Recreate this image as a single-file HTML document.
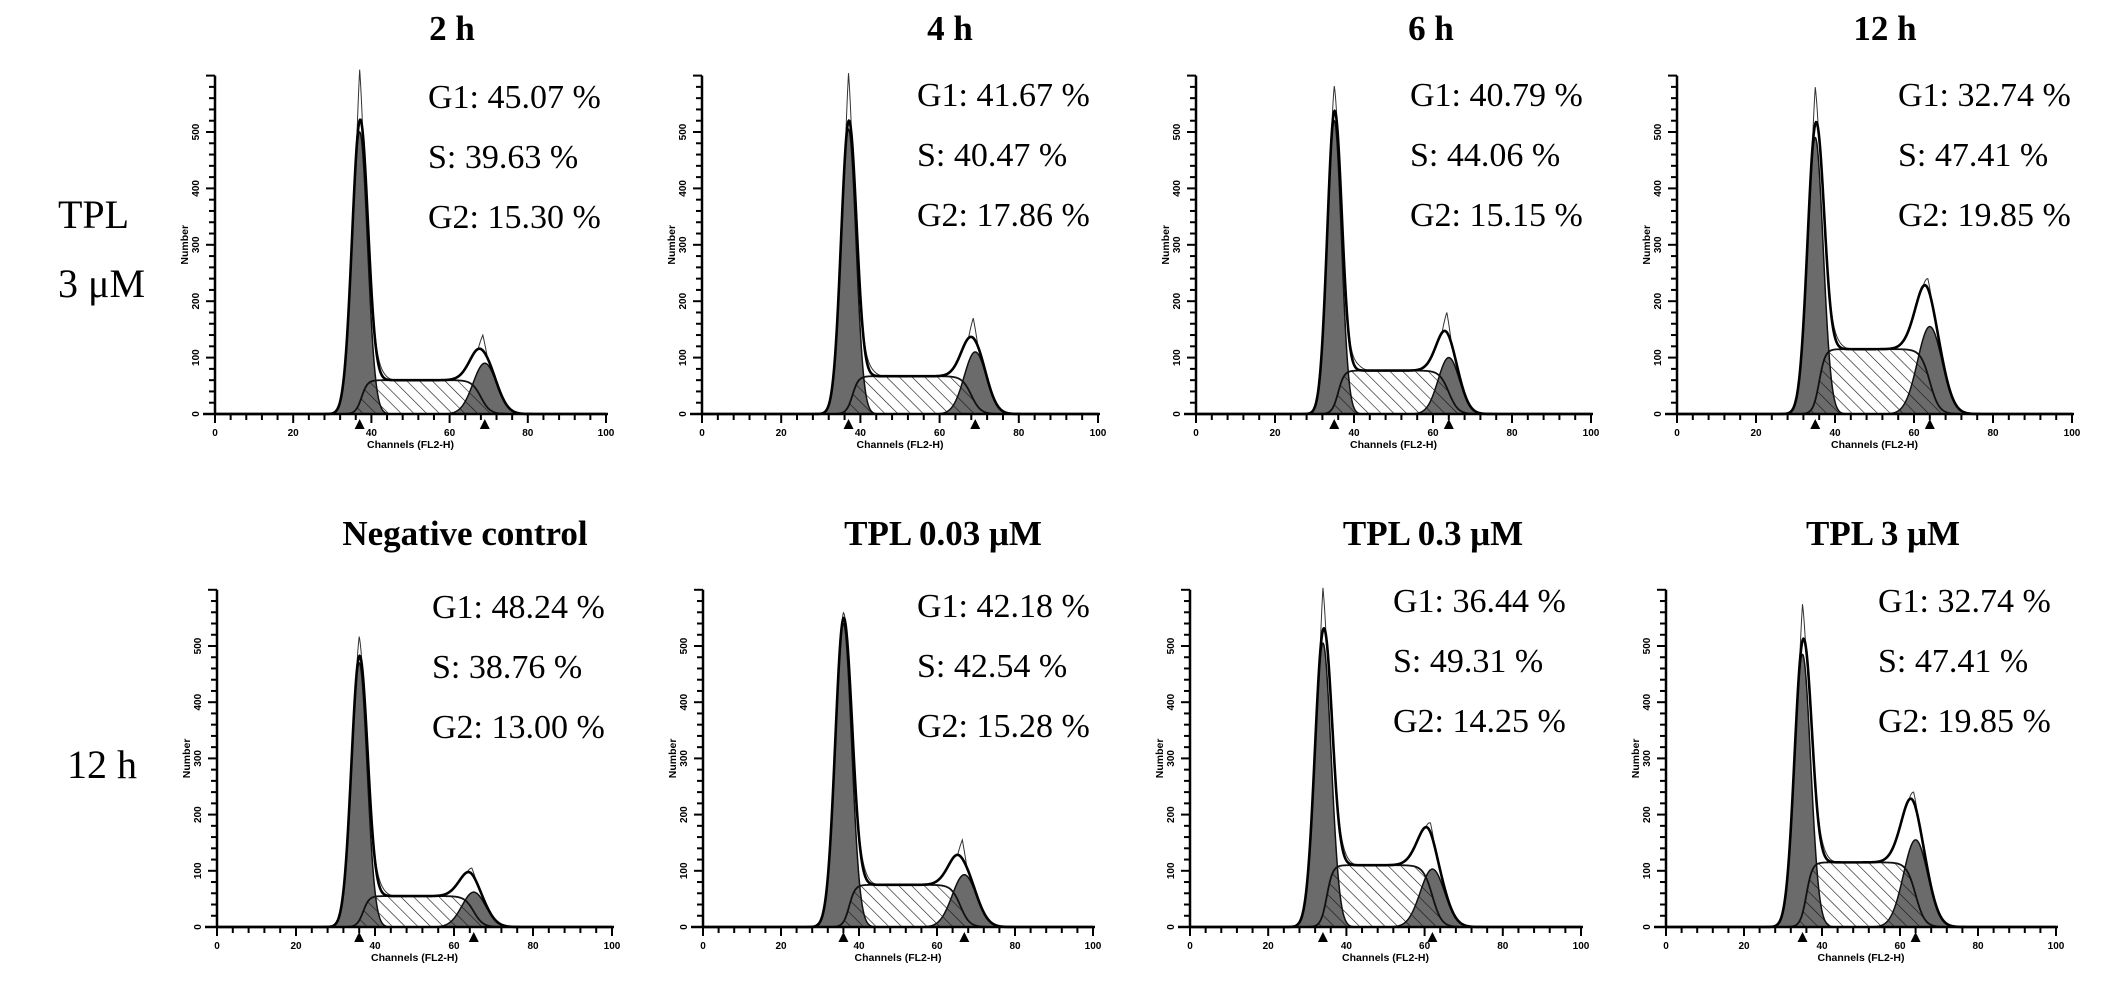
<!DOCTYPE html>
<html><head><meta charset="utf-8">
<style>
html,body{margin:0;padding:0;background:#fff;}
svg{display:block;}
.ser{font-family:"Liberation Serif",serif;fill:#000;}
.san{font-family:"Liberation Sans",sans-serif;fill:#000;font-weight:bold;}
</style></head>
<body>
<svg id="fig" width="2126" height="981" viewBox="0 0 2126 981" xmlns="http://www.w3.org/2000/svg">
<defs>
<pattern id="hatch" patternUnits="userSpaceOnUse" width="9" height="9" patternTransform="rotate(-45)">
<line x1="0" y1="0" x2="0" y2="9" stroke="#111" stroke-width="1.2"/>
</pattern>
</defs>
<text class="ser" x="58" y="228" font-size="40">TPL</text>
<text class="ser" x="58" y="297" font-size="40">3 μM</text>
<text class="ser" x="67" y="778" font-size="40">12 h</text>
</svg>
<script>
// Panel data (one entry per panel)
const titles = ["2 h","4 h","6 h","12 h","Negative control","TPL 0.03 μM","TPL 0.3 μM","TPL 3 μM"];
const g1Pct = ["45.07","41.67","40.79","32.74","48.24","42.18","36.44","32.74"];
const sPct  = ["39.63","40.47","44.06","47.41","38.76","42.54","49.31","47.41"];
const g2Pct = ["15.30","17.86","15.15","19.85","13.00","15.28","14.25","19.85"];
const g1Mean = [37,37,35,35,36,36,34,35];
const g1Height = [500,505,520,490,470,540,505,485];
const g1Sd = [2.0,1.9,1.8,2.0,2.0,2.1,2.1,2.1];
const g1Raw = [590,590,565,555,505,550,580,550];
const sLevel = [60,67,77,115,55,75,110,115];
const sStart = [37.5,38,36,36,37,37.5,35,36];
const sEnd = [68,68,64,64,65,66,62,64];
const g2Mean = [69,69,64,64,65,67,62,64];
const g2Height = [90,110,100,155,62,93,103,155];
const g2Sd = [3.0,2.8,2.7,3.1,3.0,3.1,3.1,3.1];
const g2Raw = [140,170,180,240,105,155,185,240];
const yTicks = [0,100,200,300,400,500];
const xTicks = [0,20,40,60,80,100];

// layout
const px0 = [215,702,1196,1677,217,703,1190,1666];
const px1 = [606,1098,1591,2072,612,1093,1581,2056];
const py0 = [414,414,414,414,927,927,927,927];
const pyScale = [282,282,282,282,281,281,281,281];
const titleX = [452,950,1431,1885,465,943,1433,1883];
const titleY = [40,40,40,40,545,545,545,545];
const statDX = [213,215,214,221,215,214,203,212];
const statY = [108,106,106,106,618,617,612,612];

const NS="http://www.w3.org/2000/svg";
const svg=document.getElementById('fig');
function el(tag,attrs,parent){const e=document.createElementNS(NS,tag);for(const k in attrs)e.setAttribute(k,attrs[k]);(parent||svg).appendChild(e);return e;}
function gauss(x,m,s){return Math.exp(-0.5*((x-m)/s)**2);}
function cdf(z){return 1/(1+Math.exp(-1.7*z));}

for(let i=0;i<8;i++){
  const x0=px0[i],x1=px1[i],y0=py0[i],ys=pyScale[i]/500;
  const X=v=>x0+(x1-x0)*v/100;
  const Y=v=>y0-v*ys;
  const g=el('g',{});
  
  
  const G1=x=>g1Height[i]*gauss(x,g1Mean[i],g1Sd[i]);
  const G2=x=>g2Height[i]*gauss(x,g2Mean[i],g2Sd[i]);
  const S=x=>sLevel[i]*cdf((x-sStart[i])/1.3)*(1-cdf((x-sEnd[i])/2.0));
  const step=0.1;
  function areaPath(f){let d='M'+X(0)+','+Y(0);for(let x=0;x<=100;x+=step)d+=' L'+X(x).toFixed(2)+','+Y(f(x)).toFixed(2);d+=' L'+X(100)+','+Y(0)+'Z';return d;}
  function linePath(f,a,b){let d='';for(let x=a;x<=b;x+=step)d+=(d?' L':'M')+X(x).toFixed(2)+','+Y(f(x)).toFixed(2);return d;}
  let p;
  p=el('path',{d:areaPath(G1),fill:'#6b6b6b',stroke:'#111','stroke-width':1.5},g);
  
  
  p=el('path',{d:areaPath(G2),fill:'#6b6b6b',stroke:'#111','stroke-width':1.5},g);
  
  
  p=el('path',{d:areaPath(S),fill:'url(#hatch)',stroke:'#111','stroke-width':1.8},g);
  
  
  const T=x=>G1(x)+G2(x)+S(x);
  const R=x=>T(x)+(g1Raw[i]-g1Height[i])*Math.max(0,1-Math.abs(x-g1Mean[i])/0.8)+Math.max(0,g2Raw[i]-T(g2Mean[i]-0.5))*Math.max(0,1-Math.abs(x-(g2Mean[i]-0.5))/1.2)+12*gauss(x,g1Mean[i]+5,1.5);
  p=el('path',{d:linePath(R,15,85),fill:'none',stroke:'#333','stroke-width':1},g);
  
  
  p=el('path',{d:linePath(T,0,100),fill:'none',stroke:'#000','stroke-width':2.6},g);
  
  
  p=el('line',{x1:x0-12,y1:y0,x2:x1+2,y2:y0,stroke:'#000','stroke-width':2.5},g);
  
  
  p=el('line',{x1:x0,y1:y0,x2:x0,y2:Y(600),stroke:'#000','stroke-width':2.5},g);
  
  
  for(let v=0;v<=100;v+=4){el('line',{x1:X(v),y1:y0,x2:X(v),y2:y0+(v%20===0?9:6),stroke:'#000','stroke-width':2},g);}
  for(let v=0;v<=600;v+=20){el('line',{x1:x0,y1:Y(v),x2:x0-(v%100===0?9:6),y2:Y(v),stroke:'#000','stroke-width':2},g);}
  xTicks.forEach(v=>{const t=el('text',{x:X(v),y:y0+22,'text-anchor':'middle','font-size':10,class:'san'},g);t.textContent=v;
    
    });
  yTicks.forEach(v=>{const t=el('text',{x:0,y:0,'text-anchor':'middle','font-size':10,class:'san',transform:`translate(${x0-16},${Y(v)}) rotate(-90)`},g);t.textContent=v;
    
    });
  let t=el('text',{x:(x0+x1)/2,y:y0+34,'text-anchor':'middle','font-size':10.5,class:'san'},g);t.textContent='Channels (FL2-H)';
  
  
  t=el('text',{x:0,y:0,'text-anchor':'middle','font-size':10.5,class:'san',transform:`translate(${x0-27},${Y(300)}) rotate(-90)`},g);t.textContent='Number';
  
  
  [g1Mean[i],g2Mean[i]].forEach(m=>{const tr=el('path',{d:`M${X(m)-5},${y0+15} L${X(m)+5},${y0+15} L${X(m)},${y0+5}Z`,fill:'#000'},g);
    
    });
  t=el('text',{x:titleX[i],y:titleY[i],'text-anchor':'middle','font-size':35,'font-weight':'bold',class:'ser'},g);t.textContent=titles[i];
  
  
  const lab=['G1: '+g1Pct[i]+' %','S: '+sPct[i]+' %','G2: '+g2Pct[i]+' %'];
  lab.forEach((s,k)=>{const tt=el('text',{x:x0+statDX[i],y:statY[i]+k*60,'font-size':34,class:'ser'},g);tt.textContent=s;
    
    });
}
</script>
</body></html>
